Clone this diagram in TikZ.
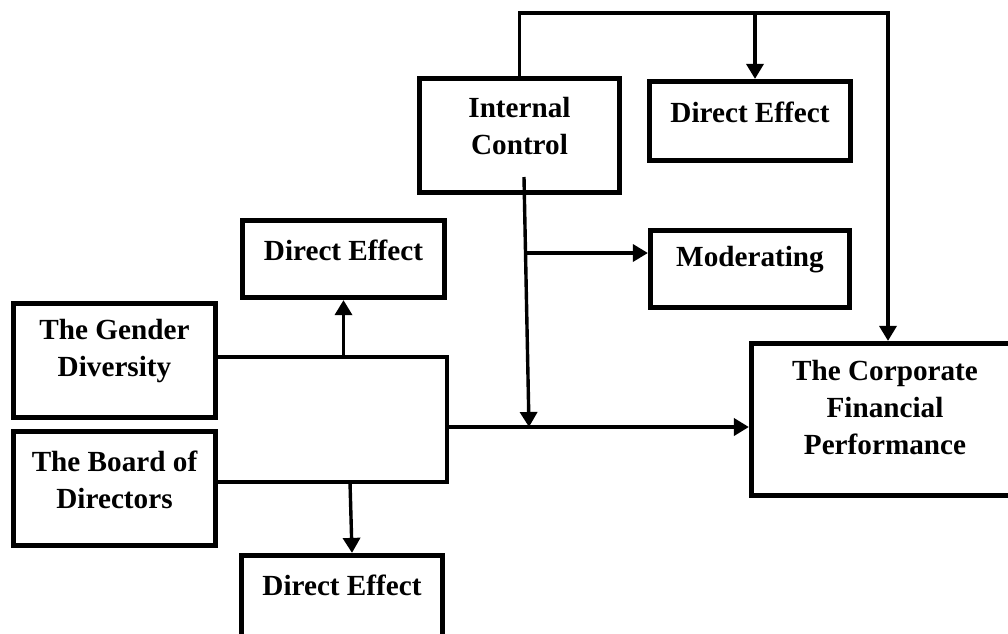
\documentclass[tikz,border=0pt]{standalone}
\usepackage{fontspec}
\setmainfont{Liberation Serif}
\usetikzlibrary{arrows.meta}
\tikzset{
  box/.style={draw, line width=2.6pt},
  txt/.style={align=center, font=\bfseries\fontsize{14.6pt}{18.5pt}\selectfont, yshift=4.5pt},
  link/.style={line width=1.7pt},
  arr/.style={link, -{Triangle[width=8.5pt,length=7.5pt]}}
}
\begin{document}
\begin{tikzpicture}[x=0.5pt, y=-0.5pt]
\clip (0,0) rectangle (1008,633);

\node[box, minimum width=101pt, minimum height=57pt, label={[txt]center:{The Gender\\Diversity}}] (gender) at (114.5,360.5) {};
\node[box, minimum width=101pt, minimum height=57pt, label={[txt]center:{The Board of\\Directors}}] (board) at (114.5,488.5) {};
\node[box, minimum width=101pt, minimum height=38.5pt, label={[txt]center:{Direct Effect}}] (deUp) at (343.5,259) {};
\node[box, minimum width=100.5pt, minimum height=50pt, label={[txt, yshift=5.75pt]center:{Direct Effect}}] (deDown) at (342,605.5) {};
\node[box, minimum width=100pt, minimum height=57pt, label={[txt]center:{Internal\\Control}}] (ic) at (519.5,135.5) {};
\node[box, minimum width=100.5pt, minimum height=39.5pt, label={[txt]center:{Direct Effect}}] (deTop) at (750,121) {};
\node[box, minimum width=99.5pt, minimum height=38.5pt, label={[txt]center:{Moderating}}] (mod) at (750,269) {};
\node[box, minimum width=133.5pt, minimum height=76pt, label={[txt, yshift=1.25pt]center:{The Corporate\\Financial\\Performance}}] (cfp) at (885,419.5) {};

\coordinate (brTop) at (447,357);
\coordinate (brBot) at (447,482);
\coordinate (jn) at (447,427);
\coordinate (ddTop) at (350,482);
\coordinate (mj) at (529,427);
\coordinate (mb) at (527,253);
\coordinate (top) at (888,13);
\coordinate (tb) at (755,13);

\draw[link] (gender.east |- brTop) -- (brTop) -- (brBot) -- (board.east |- brBot);
\draw[arr] (deUp.south |- brTop) -- (deUp.south);
\draw[arr] (ddTop) -- ([xshift=5pt]deDown.north);
\draw[arr, line width=2.2pt] (jn) -- (cfp.west |- jn);
\draw[arr] ([xshift=2.25pt,yshift=-20.75pt]ic.center) -- (mj);
\draw[arr] (mb) -- (mod.west |- mb);
\draw[arr] (ic.north) |- (top) -- (top |- cfp.north);
\draw[arr] (tb) -- (tb |- deTop.north);
\end{tikzpicture}
\end{document}
